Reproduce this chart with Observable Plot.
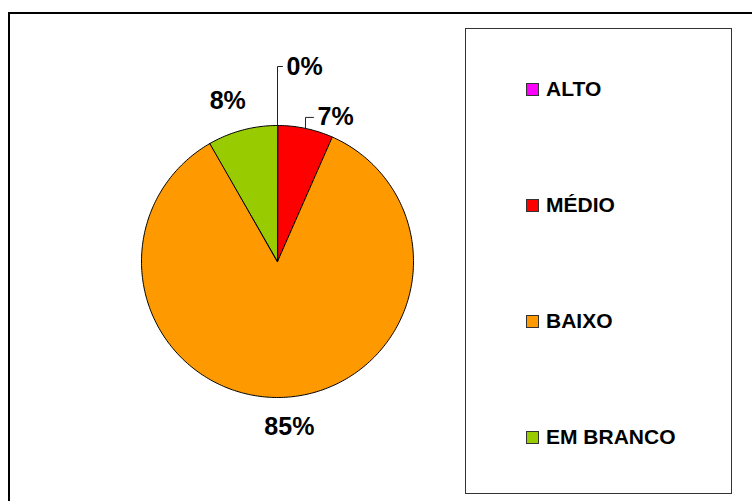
<!DOCTYPE html>
<html>
<head>
<meta charset="utf-8">
<script src="https://cdn.jsdelivr.net/npm/d3@7"></script>
<script src="https://cdn.jsdelivr.net/npm/@observablehq/plot@0.6"></script>
<style>
  body { margin: 0; background: #fff; font-family: "Liberation Sans", Arial, sans-serif; }
  #wrap { position: relative; width: 752px; height: 501px; overflow: hidden; background: #fff; }
  #chart { position: absolute; left: 0; top: 0; }
  #outer { position: absolute; left: 8px; top: 12px; width: 820px; height: 620px; border: 2px solid #000; }
  #legend { position: absolute; left: 465px; top: 28px; width: 265px; height: 464px; border: 1px solid #333; background: #fff; }
  .item { position: absolute; left: 60px; height: 24px; display: flex; align-items: center; font-weight: bold; font-size: 21px; color: #000; white-space: nowrap; }
  .sw { width: 11px; height: 11px; border: 1px solid #333; margin-right: 7px; }
</style>
</head>
<body>
<div id="wrap">
  <div id="chart"></div>
  <div id="outer"></div>
  <div id="legend"></div>
</div>
<script>
// ---- data ----
const categories = ["ALTO", "MÉDIO", "BAIXO", "EM BRANCO"];
const percents = [0, 6.6, 85.1, 8.3];
const labels = ["0%", "7%", "85%", "8%"];
const colors = ["#FF00FF", "#FF0000", "#FF9900", "#99CC00"];

// ---- layout (not data) ----
const W = 752, H = 501;
const cx = 277, cy = 261;     // pie centre in px
const R = 136;                // pie radius in px
const labelR = 1.22;          // plain label radius factor
const leaders = {             // labels with leader lines
  "ALTO":  {rise: 59, run: 5},
  "MÉDIO": {rise: 11, run: 8}
};
const labelShift = {"EM BRANCO": -7, "BAIXO": 3};

const rows = categories.map((c, i) => ({cat: c, value: percents[i], label: labels[i], color: colors[i]}));
const arcs = d3.pie().sort(null).value(d => d.value)(rows);

const pt = (a, r) => ({x: r * Math.sin(a), y: r * Math.cos(a)});

// slice polygons
const poly = [];
arcs.forEach(a => {
  const cat = a.data.cat;
  poly.push({cat, ...pt(0, 0)});
  const steps = Math.max(1, Math.ceil((a.endAngle - a.startAngle) / (Math.PI / 180)));
  for (let k = 0; k <= steps; k++) {
    const ang = a.startAngle + (a.endAngle - a.startAngle) * k / steps;
    poly.push({cat, ...pt(ang, R)});
  }
});

// labels and leaders
const textData = [];
const leaderData = [];
arcs.forEach(a => {
  const cat = a.data.cat;
  const mid = (a.startAngle + a.endAngle) / 2;
  if (leaders[cat]) {
    const s = pt(mid, R);
    const L = leaders[cat];
    const e1 = {x: s.x, y: s.y + L.rise};
    const e2 = {x: s.x + L.run, y: s.y + L.rise};
    leaderData.push({cat, ...s}, {cat, ...e1}, {cat, ...e2});
    textData.push({label: a.data.label, x: e2.x + 4, y: e2.y, anchor: "start"});
  } else {
    const p = pt(mid, R * labelR);
    textData.push({label: a.data.label, x: p.x + (labelShift[cat] || 0), y: p.y, anchor: "middle"});
  }
});

const plot = Plot.plot({
  width: W, height: H,
  margin: 0,
  x: {domain: [-cx, W - cx], axis: null},
  y: {domain: [cy - H, cy], axis: null},
  color: {domain: categories, range: colors},
  style: {fontFamily: '"Liberation Sans", Arial, sans-serif', background: "transparent", overflow: "visible"},
  marks: [
    Plot.line(poly, {x: "x", y: "y", z: "cat", fill: "cat", stroke: "#000", strokeWidth: 1, curve: "linear-closed"}),
    Plot.line(leaderData, {x: "x", y: "y", z: "cat", stroke: "#222", strokeWidth: 1}),
    Plot.text(textData.filter(d => d.anchor === "start"), {x: "x", y: "y", text: "label", textAnchor: "start", fontSize: 25, fontWeight: "bold", fill: "#000"}),
    Plot.text(textData.filter(d => d.anchor === "middle"), {x: "x", y: "y", text: "label", textAnchor: "middle", fontSize: 25, fontWeight: "bold", fill: "#000"})
  ]
});
document.getElementById("chart").appendChild(plot);

// legend
const legend = document.getElementById("legend");
categories.forEach((c, i) => {
  const item = document.createElement("div");
  item.className = "item";
  item.style.top = (60 + i * 116 - 12) + "px";
  const sw = document.createElement("div");
  sw.className = "sw";
  sw.style.background = colors[i];
  const t = document.createElement("span");
  t.textContent = c;
  item.appendChild(sw);
  item.appendChild(t);
  legend.appendChild(item);
});
</script>
</body>
</html>
